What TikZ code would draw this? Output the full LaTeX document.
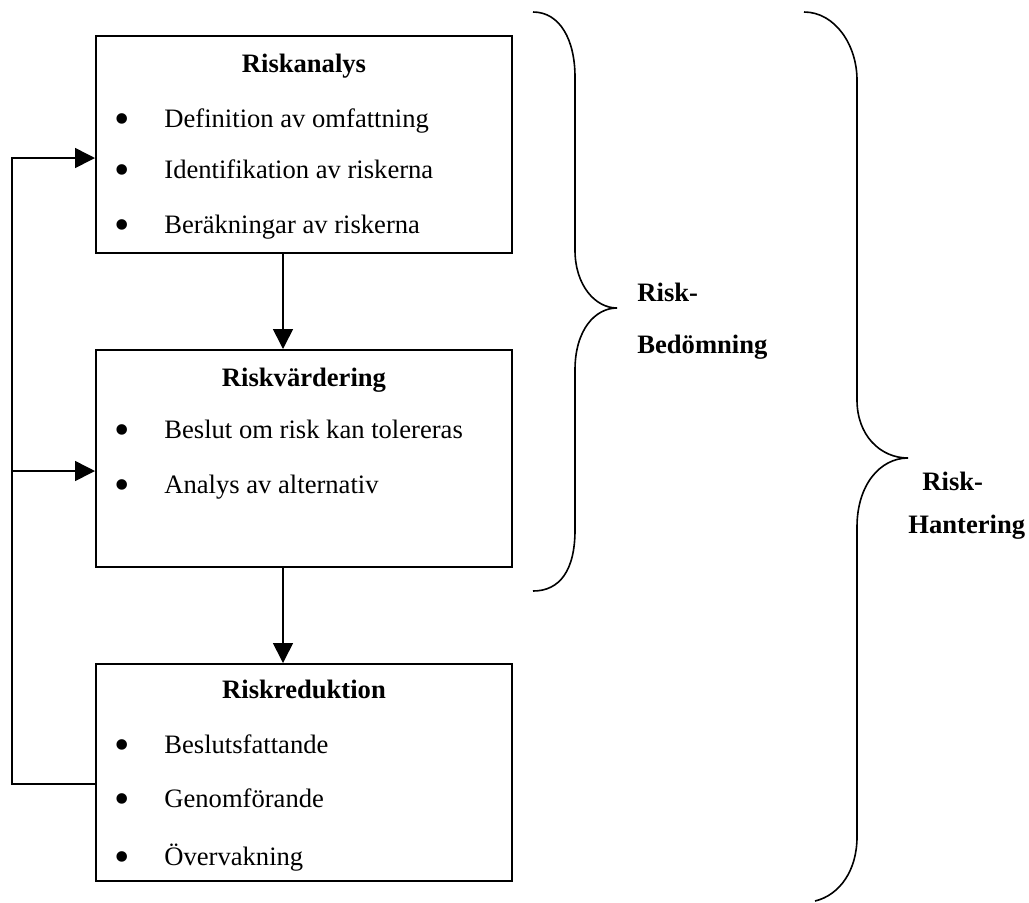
\documentclass[tikz,border=0pt]{standalone}
\usepackage{fontspec}
\setmainfont{Liberation Serif}
\usepackage{tikz}
\usetikzlibrary{positioning,calc,arrows.meta}

\begin{document}
\begin{tikzpicture}[x=0.5pt, y=-0.5pt,
    riskbox/.style={draw, line width=1pt, minimum width=208pt, minimum height=108.5pt, inner sep=0pt},
    rubrik/.style={anchor=base, inner sep=0pt, font=\fontsize{13.3}{16}\selectfont\bfseries},
    punkt/.style={anchor=base, inner sep=0pt, yshift=-3pt, font=\fontsize{22}{24}\selectfont},
    punkttext/.style={anchor=base west, inner sep=0pt, font=\fontsize{13.3}{16}\selectfont},
    etikett/.style={anchor=base west, inner sep=0pt, font=\fontsize{13.3}{16}\selectfont\bfseries},
    linje/.style={line width=0.8pt},
    pil/.style={line width=0.8pt, -{Triangle[length=10pt, width=10pt]}},
    klammer/.style={line width=0.8pt}]
    \useasboundingbox (0,0) rectangle (1029,902);

    % Riskanalys
    \node[riskbox] at (304,144.5) (analys) {};
    \node[rubrik] at (304,72) (analystitel) {Riskanalys};
    \node[punkt] at (122,127) (ap1) {•};
    \node[punkttext] at (164,127) (at1) {Definition av omfattning};
    \node[punkt] at (122,178) (ap2) {•};
    \node[punkttext] at (164,178) (at2) {Identifikation av riskerna};
    \node[punkt] at (122,233) (ap3) {•};
    \node[punkttext] at (164,233) (at3) {Beräkningar av riskerna};

    % Riskvärdering
    \node[riskbox] at (304,458.5) (varde) {};
    \node[rubrik] at (304,386) (vardetitel) {Riskvärdering};
    \node[punkt] at (122,438) (vp1) {•};
    \node[punkttext] at (164,438) (vt1) {Beslut om risk kan tolereras};
    \node[punkt] at (122,493) (vp2) {•};
    \node[punkttext] at (164,493) (vt2) {Analys av alternativ};

    % Riskreduktion
    \node[riskbox] at (304,772.5) (reduktion) {};
    \node[rubrik] at (304,698) (reduktiontitel) {Riskreduktion};
    \node[punkt] at (122,753) (rp1) {•};
    \node[punkttext] at (164,753) (rt1) {Beslutsfattande};
    \node[punkt] at (122,807) (rp2) {•};
    \node[punkttext] at (164,807) (rt2) {Genomförande};
    \node[punkt] at (122,865) (rp3) {•};
    \node[punkttext] at (164,865) (rt3) {Övervakning};

    % Flöde nedåt
    \draw[pil] ([xshift=-10.5pt]analys.south) -- ([xshift=-10.5pt]varde.north);
    \draw[pil] ([xshift=-10.5pt]varde.south) -- ([xshift=-10.5pt]reduktion.north);

    % Återkoppling
    \coordinate (retur) at (12,784);
    \coordinate (gren) at (12,471);
    \draw[pil] ([yshift=-5.75pt]reduktion.west) -- (retur) |- ([yshift=-6.75pt]analys.west);
    \draw[pil] (gren) -- ([yshift=-6.25pt]varde.west);

    % Klamrar
    \draw[klammer] (533,12) .. controls (560,12) and (575,40) .. (575,77) -- (575,250)
        .. controls (575,285) and (595,308) .. (617,308)
        .. controls (595,308) and (575,330) .. (575,370) -- (575,530)
        .. controls (575,570) and (560,591) .. (533,591);
    \draw[klammer] (804,12) .. controls (835,12) and (857,45) .. (857,80) -- (857,400)
        .. controls (857,435) and (880,458) .. (908,458)
        .. controls (880,458) and (857,485) .. (857,527) -- (857,837)
        .. controls (857,870) and (840,895) .. (815,901);

    \node[etikett] at (637,301) (bed1) {Risk-};
    \node[etikett] at (637,353) (bed2) {Bedömning};
    \node[etikett] at (922,490) (han1) {Risk-};
    \node[etikett] at (908,533) (han2) {Hantering};
\end{tikzpicture}
\end{document}
